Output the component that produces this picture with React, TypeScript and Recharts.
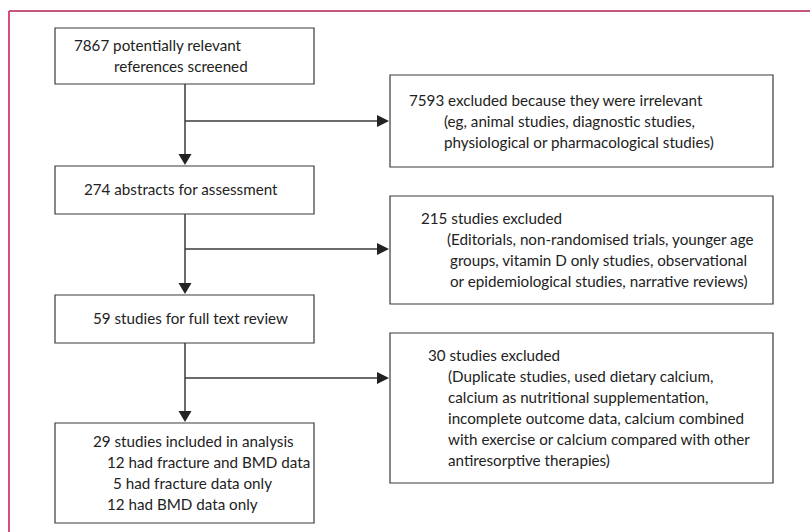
import { ComposedChart, ReferenceArea, ReferenceLine, Scatter, XAxis, YAxis } from 'recharts'

// flow steps, top to bottom
const screened = ['7867 potentially relevant', 'references screened']
const abstracts = ['274 abstracts for assessment']
const fullText = ['59 studies for full text review']
const included = [
  '29 studies included in analysis',
  '12 had fracture and BMD data',
  '5 had fracture data only',
  '12 had BMD data only',
]

// exclusions, one per step
const excludedIrrelevant = [
  '7593 excluded because they were irrelevant',
  '(eg, animal studies, diagnostic studies,',
  'physiological or pharmacological studies)',
]
const excludedAbstracts = [
  '215 studies excluded',
  '(Editorials, non-randomised trials, younger age',
  'groups, vitamin D only studies, observational',
  'or epidemiological studies, narrative reviews)',
]
const excludedFullText = [
  '30 studies excluded',
  '(Duplicate studies, used dietary calcium,',
  'calcium as nutritional supplementation,',
  'incomplete outcome data, calcium combined',
  'with exercise or calcium compared with other',
  'antiresorptive therapies)',
]

const W = 810
const H = 532
const LINE = 21
const INK = '#3a3a3a'
const FRAME = '#b3204f'

// layout in chart units (1 unit = 1px)
const mainX: [number, number] = [55, 314]
const sideX: [number, number] = [390, 773]
const spineX = 185
const mainBoxes = [
  { lines: screened, y: [28, 84], indent: [74, 114], top: 46 },
  { lines: abstracts, y: [166, 214], indent: [84], top: 190 },
  { lines: fullText, y: [295, 343], indent: [93], top: 319 },
  { lines: included, y: [423, 523], indent: [93, 107, 113, 107], top: 442 },
]
const sideBoxes = [
  { lines: excludedIrrelevant, y: [75, 167], indent: [409, 444, 444], top: 101, branch: 121 },
  { lines: excludedAbstracts, y: [196, 304], indent: [421, 447, 450, 450], top: 219, branch: 249 },
  { lines: excludedFullText, y: [333, 483], indent: [428, 448, 448, 448, 448, 448], top: 356, branch: 378 },
]

const textPoints = [...mainBoxes, ...sideBoxes].flatMap((b) =>
  b.lines.map((text, i) => ({ x: b.indent[Math.min(i, b.indent.length - 1)], y: b.top + i * LINE, text }))
)

const downTips = mainBoxes.slice(1).map((b) => ({ x: spineX, y: b.y[0] - 1, dir: 'down' }))
const rightTips = sideBoxes.map((b) => ({ x: sideX[0] - 1, y: b.branch, dir: 'right' }))

const Arrow = (props: any) => {
  const { cx, cy, payload } = props
  const pts =
    payload.dir === 'down'
      ? `${cx - 6.5},${cy - 11} ${cx + 6.5},${cy - 11} ${cx},${cy}`
      : `${cx - 12},${cy - 6} ${cx - 12},${cy + 6} ${cx},${cy}`
  return <polygon points={pts} fill="#222" />
}

const Label = (props: any) => {
  const { cx, cy, payload } = props
  return (
    <text x={cx} y={cy} dy="0.35em" fill="#222" fontSize={15.2} fontFamily="Lato, 'Open Sans', sans-serif">
      {payload.text}
    </text>
  )
}

export default function App() {
  return (
    <div style={{ position: 'absolute', left: 0, top: 0, width: W, height: H, background: '#fff' }}>
      <ComposedChart width={W} height={H} margin={{ top: 0, right: 0, bottom: 0, left: 0 }}>
        <XAxis type="number" dataKey="x" domain={[0, W]} hide allowDataOverflow />
        <YAxis type="number" dataKey="y" domain={[0, H]} reversed hide allowDataOverflow />

        {/* frame */}
        <ReferenceLine segment={[{ x: 9, y: 11 }, { x: W, y: 11 }]} stroke={FRAME} strokeWidth={1.5} />
        <ReferenceLine segment={[{ x: 9, y: 11 }, { x: 9, y: H }]} stroke="#d4507a" strokeWidth={2} />

        {/* spine */}
        {mainBoxes.slice(0, -1).map((b, i) => (
          <ReferenceLine
            key={`spine-${i}`}
            segment={[{ x: spineX, y: b.y[1] }, { x: spineX, y: mainBoxes[i + 1].y[0] - 8 }]}
            stroke={INK}
            strokeWidth={1.5}
          />
        ))}
        {sideBoxes.map((b, i) => (
          <ReferenceLine
            key={`branch-${i}`}
            segment={[{ x: spineX, y: b.branch }, { x: sideX[0] - 8, y: b.branch }]}
            stroke={INK}
            strokeWidth={1.5}
          />
        ))}

        {mainBoxes.map((b, i) => (
          <ReferenceArea
            key={`main-${i}`}
            x1={mainX[0]}
            x2={mainX[1]}
            y1={b.y[0]}
            y2={b.y[1]}
            fill="#fff"
            fillOpacity={1}
            stroke={INK}
            strokeWidth={1.2}
          />
        ))}
        {sideBoxes.map((b, i) => (
          <ReferenceArea
            key={`side-${i}`}
            x1={sideX[0]}
            x2={sideX[1]}
            y1={b.y[0]}
            y2={b.y[1]}
            fill="#fff"
            fillOpacity={1}
            stroke={INK}
            strokeWidth={1.2}
          />
        ))}

        <Scatter data={[...downTips, ...rightTips]} shape={<Arrow />} isAnimationActive={false} />
        <Scatter data={textPoints} shape={<Label />} isAnimationActive={false} />
      </ComposedChart>
    </div>
  )
}
